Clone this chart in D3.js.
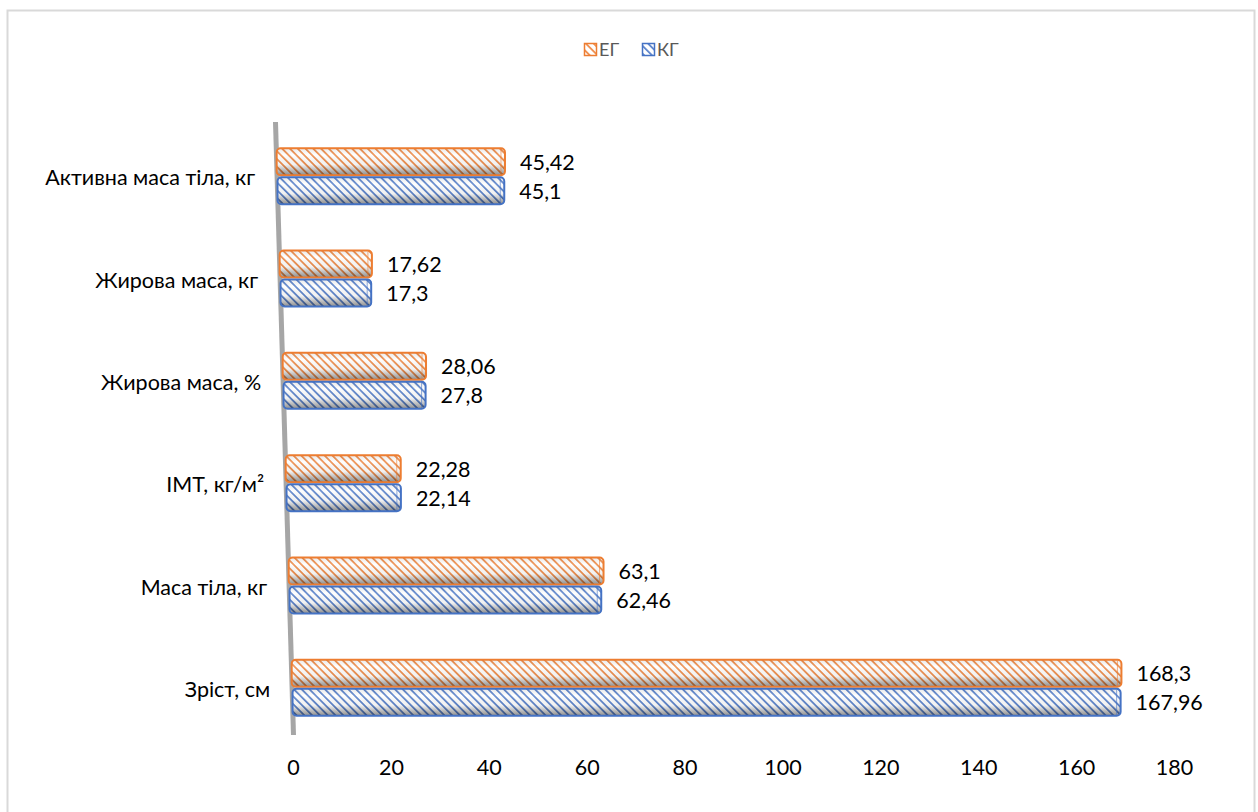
<!DOCTYPE html>
<html>
<head>
<meta charset="utf-8">
<script src="https://cdn.jsdelivr.net/npm/d3@7"></script>
<style>
  body { margin: 0; background: #fff; }
  text { font-family: Lato, "Open Sans", sans-serif; }
</style>
</head>
<body>
<svg width="1258" height="812"></svg>
<script>
// data
const categories = ['Активна маса тіла, кг', 'Жирова маса, кг', 'Жирова маса, %', 'ІМТ, кг/м²', 'Маса тіла, кг', 'Зріст, см']
const egValues = [45.42, 17.62, 28.06, 22.28, 63.1, 168.3]
const kgValues = [45.1, 17.3, 27.8, 22.14, 62.46, 167.96]
const egLabels = ['45,42', '17,62', '28,06', '22,28', '63,1', '168,3']
const kgLabels = ['45,1', '17,3', '27,8', '22,14', '62,46', '167,96']
const tickValues = [0, 20, 40, 60, 80, 100, 120, 140, 160, 180]
const seriesNames = ['ЕГ', 'КГ']
const seriesColors = ['#ed7d31', '#4472c4']

const svg = d3.select('svg')

// chart frame
svg.append('rect')
  .attr('x', 7.5).attr('y', 10.5)
  .attr('width', 1247).attr('height', 808)
  .style('fill', '#fff')
  .style('stroke', '#d9d9d9')
  .style('stroke-width', 2)

const defs = svg.append('defs')

// hatched patterns, one per series
seriesColors.forEach(function (c, i) {
  const p = defs.append('pattern')
    .attr('id', 'hatch' + i)
    .attr('patternUnits', 'userSpaceOnUse')
    .attr('width', 5.5).attr('height', 5.5)
    .attr('patternTransform', 'rotate(-45)')
  p.append('rect').attr('width', 5.5).attr('height', 5.5).style('fill', '#fff')
  p.append('rect').attr('width', 1.8).attr('height', 5.5).style('fill', c).style('opacity', 0.85)
})

// cylinder shading
const shade = defs.append('linearGradient')
  .attr('id', 'shade')
  .attr('x1', 0).attr('y1', 0).attr('x2', 0).attr('y2', 1)
shade.append('stop').attr('offset', '0%').attr('stop-color', '#000').attr('stop-opacity', 0.08)
shade.append('stop').attr('offset', '25%').attr('stop-color', '#fff').attr('stop-opacity', 0.1)
shade.append('stop').attr('offset', '60%').attr('stop-color', '#000').attr('stop-opacity', 0.05)
shade.append('stop').attr('offset', '100%').attr('stop-color', '#000').attr('stop-opacity', 0.45)

// scales
const xScale = d3.scaleLinear()
  .domain([0, 180])
  .range([0, 881])

const yScale = d3.scaleBand()
  .domain(categories)
  .range([126, 740])

// the side wall leans, so bars start a little further right lower down
const wallX = d3.scaleLinear()
  .domain([122, 735])
  .range([275.5, 293.5])

// wall
svg.append('line')
  .attr('x1', wallX(122)).attr('y1', 122)
  .attr('x2', wallX(735)).attr('y2', 735)
  .style('stroke', '#a6a6a6')
  .style('stroke-width', 5)

const barH = 27
const rows = categories.map(function (c, i) {
  return [
    { cat: c, s: 0, v: egValues[i], label: egLabels[i], y: yScale(c) + yScale.bandwidth() / 2 - 29 },
    { cat: c, s: 1, v: kgValues[i], label: kgLabels[i], y: yScale(c) + yScale.bandwidth() / 2 }
  ]
})
const bars = rows.flat()

const barG = svg.append('g').attr('class', 'bars')
bars.forEach(function (d) {
  const x0 = wallX(d.y + barH / 2)
  const w = xScale(d.v) + 6
  const g = barG.append('g')
  g.append('rect')
    .attr('x', x0).attr('y', d.y)
    .attr('width', w).attr('height', barH)
    .attr('rx', 4).attr('ry', 4)
    .style('fill', 'url(#hatch' + d.s + ')')
  g.append('rect')
    .attr('x', x0).attr('y', d.y)
    .attr('width', w).attr('height', barH)
    .attr('rx', 4).attr('ry', 4)
    .style('fill', 'url(#shade)')
    .style('stroke', seriesColors[d.s])
    .style('stroke-width', 2)
  // end cap
  g.append('line')
    .attr('x1', x0 + w - 4).attr('x2', x0 + w - 4)
    .attr('y1', d.y + 1).attr('y2', d.y + barH - 1)
    .style('stroke', seriesColors[d.s])
    .style('stroke-width', 1)
    .style('opacity', 0.6)
  // value label
  svg.append('text')
    .attr('x', x0 + w + 15)
    .attr('y', d.y + barH / 2 + 8)
    .style('font-size', '21.5px')
    .style('fill', '#000')
    .text(d.label)
})

// category labels
svg.append('g').selectAll('text')
  .data(categories)
  .join('text')
  .attr('x', function (d) { return wallX(yScale(d) + yScale.bandwidth() / 2) - 22 })
  .attr('y', function (d) { return yScale(d) + yScale.bandwidth() / 2 + 8 })
  .style('text-anchor', 'end')
  .style('font-size', '21.5px')
  .style('fill', '#000')
  .text(function (d) { return d })

// x axis
const xAxis = svg.append('g')
  .attr('transform', 'translate(293,760)')
  .call(d3.axisBottom(xScale).tickValues(tickValues).tickSize(0).tickPadding(0))
xAxis.select('.domain').remove()
xAxis.selectAll('text')
  .style('font-family', 'Lato, "Open Sans", sans-serif')
  .style('font-size', '21.5px')
  .style('fill', '#000')

// legend
const legend = svg.append('g').attr('transform', 'translate(584,43)')
const legendX = [0, 58]
seriesNames.forEach(function (n, i) {
  legend.append('rect')
    .attr('x', legendX[i] + 0.5).attr('y', 0.5)
    .attr('width', 12).attr('height', 12)
    .style('fill', 'url(#hatch' + i + ')')
    .style('stroke', seriesColors[i])
    .style('stroke-width', 1.5)
  legend.append('text')
    .attr('x', legendX[i] + 15).attr('y', 12.5)
    .style('font-size', '18px')
    .style('fill', '#595959')
    .text(n)
})
</script>
</body>
</html>
